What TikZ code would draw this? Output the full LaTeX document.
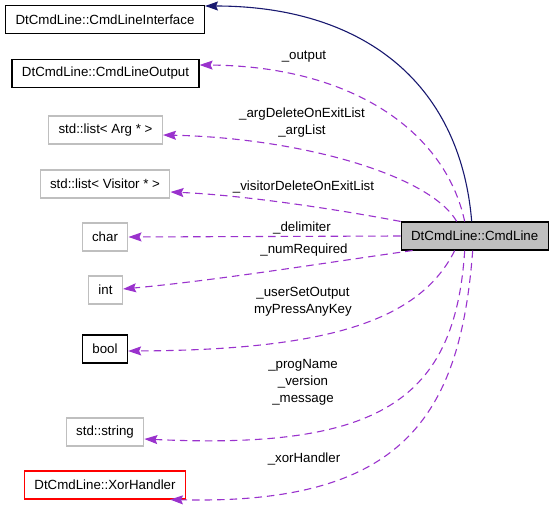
\documentclass[tikz,border=0pt]{standalone}
\usepackage{fontspec}
\setmainfont{Liberation Sans}
\usepackage{xcolor}
\usetikzlibrary{arrows.meta}
\definecolor{usecolor}{HTML}{9A32CD}
\definecolor{inhcolor}{HTML}{191970}
\definecolor{extgray}{HTML}{BFBFBF}

\begin{document}
\begin{tikzpicture}[
  x=1pt, y=-1pt,
  every node/.style={font=\fontsize{13.3}{17}\selectfont, inner sep=0pt},
  cls/.style={draw, line width=1.1pt, minimum height=28pt, inner xsep=10pt},
  ext/.style={cls, draw=extgray},
  bad/.style={cls, draw=red},
  main/.style={cls, fill=extgray},
  lbl/.style={align=center},
  use/.style={draw=usecolor, line width=1.1pt, dash pattern=on 7.5pt off 5pt,
    -{Stealth[length=13pt,width=9pt,inset=2pt,fill=usecolor]}},
  inh/.style={draw=inhcolor, line width=1.1pt,
    -{Stealth[length=13pt,width=9pt,inset=2pt,fill=inhcolor]}}
]
  \useasboundingbox (0,0) rectangle (555,511);

  \node[cls] (iface) at (105,19.5) {DtCmdLine::CmdLineInterface};
  \node[cls] (output) at (105.5,73.5) {DtCmdLine::CmdLineOutput};
  \node[ext] (arglist) at (105.5,130) {std::list< Arg * >};
  \node[ext] (visitor) at (105,184) {std::list< Visitor * >};
  \node[ext] (chr) at (105,237) {char};
  \node[ext] (intn) at (105.5,290) {int};
  \node[cls] (boolean) at (105,349) {bool};
  \node[ext] (str) at (105,432) {std::string};
  \node[bad] (xorh) at (105,485) {DtCmdLine::XorHandler};
  \node[main] (cmdline) at (474.7,236) {DtCmdLine::CmdLine};

  % labels
  \node[lbl] (l-output) at (304,57) {\_output};
  \node[lbl] (l-arg) at (302,122.5) {\_argDeleteOnExitList\\\_argList};
  \node[lbl] (l-visitor) at (303.5,187) {\_visitorDeleteOnExitList};
  \node[lbl] (l-delim) at (302,228) {\_delimiter};
  \node[lbl] (l-num) at (304,250) {\_numRequired};
  \node[lbl] (l-bool) at (303,301.5) {\_userSetOutput\\myPressAnyKey};
  \node[lbl] (l-str) at (303,382) {\_progName\\\_version\\\_message};
  \node[lbl] (l-xor) at (304,459) {\_xorHandler};

  % edges
  \draw[inh] ([xshift=-3pt]cmdline.north) .. controls (460,80) and (360,6) .. ([yshift=13.5pt]iface.east);
  \draw[use] ([xshift=-10pt]cmdline.north) .. controls (445,130) and (350,66) .. ([yshift=8.5pt]output.east);
  \draw[use] ([xshift=-18pt]cmdline.north) .. controls (430,175) and (300,138) .. ([yshift=-5pt]arglist.east);
  \draw[use] (cmdline.north west) .. controls (330,208) and (240,195) .. ([yshift=-8pt]visitor.east);
  \draw[use] (cmdline.west) -- (chr.east);
  \draw[use] ([xshift=12pt]cmdline.south west) .. controls (330,262) and (220,280) .. ([yshift=1pt]intn.east);
  \draw[use] ([xshift=-20pt]cmdline.south) .. controls (420,320) and (330,350) .. ([yshift=-2pt]boolean.east);
  \draw[use] ([xshift=-10pt]cmdline.south) .. controls (455,400) and (380,450) .. ([yshift=-7pt]str.east);
  \draw[use] ([xshift=-2pt]cmdline.south) .. controls (460,420) and (400,505) .. ([xshift=65pt]xorh.south);
\end{tikzpicture}
\end{document}
